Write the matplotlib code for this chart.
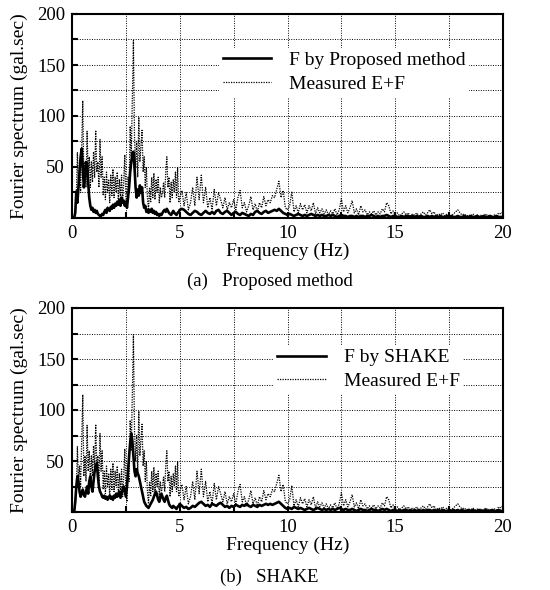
import numpy as np
import matplotlib
matplotlib.use("Agg")
import matplotlib.pyplot as plt

# Frequency grid (Hz): 0.05 Hz spacing up to 5 Hz, 0.1 Hz spacing from 5 to 20 Hz
freq_low = np.round(np.arange(100) * 0.05, 2)
freq_high = np.round(5.0 + np.arange(151) * 0.1, 1)

# Measured E+F (gal.sec), 0-4.95 Hz
measured_low = [
    0, 0, 0, 5, 20, 64, 30, 45, 25, 70,
    115, 35, 55, 30, 85, 40, 60, 30, 55, 35,
    65, 40, 86, 45, 55, 30, 77, 40, 60, 22,
    40, 18, 45, 25, 38, 15, 42, 22, 48, 20,
    40, 25, 45, 18, 38, 20, 42, 15, 35, 62,
    20, 10, 40, 30, 90, 60, 120, 174, 80, 50,
    75, 40, 99, 55, 70, 86, 45, 60, 30, 50,
    20, 8, 30, 15, 40, 20, 44, 18, 38, 25,
    40, 15, 30, 20, 25, 35, 20, 45, 60, 30,
    40, 15, 35, 20, 38, 25, 45, 20, 50, 15,
]
# Measured E+F, 5.0-20.0 Hz
measured_high = [
    20, 27, 12, 25, 8, 15, 30, 12, 40, 18,
    42, 15, 30, 10, 20, 8, 28, 12, 25, 18,
    10, 20, 8, 15, 10, 18, 8, 20, 27, 10,
    15, 6, 12, 21, 8, 14, 6, 15, 10, 21,
    12, 18, 15, 22, 20, 28, 36, 20, 27, 10,
    8, 12, 26, 6, 12, 5, 14, 8, 13, 5,
    12, 7, 15, 4, 10, 5, 9, 4, 8, 3,
    7, 4, 9, 3, 8, 19, 6, 12, 5, 10,
    17, 5, 9, 3, 12, 6, 8, 3, 6, 4,
    7, 3, 6, 4, 9, 6, 15, 12, 4, 7,
    3, 5, 2, 4, 6, 3, 5, 2, 4, 3,
    5, 2, 4, 6, 3, 5, 8, 4, 6, 2,
    4, 3, 5, 2, 4, 3, 2, 4, 6, 8,
    5, 3, 4, 2, 3, 2, 4, 2, 3, 1,
    3, 2, 4, 2, 3, 1, 3, 2, 5, 4,
    6,
]

# F by Proposed method, 0-4.95 Hz
proposed_low = [
    0, 0, 0, 5, 26, 15, 30, 45, 60, 68,
    50, 30, 40, 55, 54, 35, 20, 12, 8, 10,
    6, 8, 5, 7, 4, 3, 2, 2, 4, 3,
    6, 8, 5, 10, 8, 7, 11, 9, 13, 10,
    14, 12, 16, 13, 18, 12, 20, 15, 17, 12,
    16, 10, 20, 30, 45, 55, 62, 65, 50, 30,
    20, 28, 22, 32, 25, 30, 15, 10, 12, 6,
    8, 5, 8, 6, 9, 5, 7, 4, 6, 3,
    4, 2, 4, 3, 5, 7, 8, 6, 9, 7,
    5, 4, 3, 5, 7, 5, 4, 3, 5, 6,
]
# F by Proposed method, 5.0-20.0 Hz
proposed_high = [
    8, 9, 8, 6, 4, 3, 5, 7, 6, 4,
    3, 5, 7, 5, 4, 6, 4, 7, 8, 5,
    4, 6, 7, 5, 3, 5, 6, 4, 3, 5,
    4, 3, 2, 4, 3, 6, 7, 5, 4, 6,
    7, 5, 6, 7, 8, 7, 9, 7, 5, 4,
    3, 4, 3, 2, 3, 4, 3, 2, 3, 2,
    3, 4, 3, 2, 3, 2, 3, 2, 2, 3,
    2, 3, 2, 1, 2, 3, 2, 2, 1, 2,
    2, 1, 2, 1, 2, 2, 1, 2, 2, 3,
    2, 1, 2, 1, 2, 2, 3, 2, 1, 2,
    2, 1, 1, 2, 1, 2, 2, 1, 2, 1,
    2, 1, 2, 1, 1, 2, 1, 2, 1, 2,
    1, 2, 1, 1, 2, 1, 2, 1, 1, 2,
    1, 1, 2, 1, 1, 2, 1, 1, 2, 1,
    1, 2, 1, 1, 2, 1, 1, 2, 1, 1,
    1,
]

# F by SHAKE, 0-4.95 Hz
shake_low = [
    0, 0, 0, 10, 25, 35, 30, 20, 15, 18,
    22, 17, 15, 20, 25, 18, 30, 35, 25, 20,
    30, 40, 44, 48, 35, 25, 20, 18, 15, 14,
    16, 13, 15, 12, 14, 16, 13, 15, 12, 16,
    14, 18, 15, 17, 20, 14, 18, 22, 25, 20,
    15, 25, 40, 55, 68, 77, 70, 55, 40, 35,
    42, 38, 35, 30, 25, 20, 15, 10, 8, 6,
    5, 4, 6, 8, 10, 12, 15, 18, 20, 16,
    12, 10, 14, 18, 15, 12, 10, 14, 16, 12,
    8, 6, 5, 4, 6, 5, 4, 3, 5, 6,
]
# F by SHAKE, 5.0-20.0 Hz
shake_high = [
    8, 6, 4, 5, 3, 4, 6, 5, 7, 9,
    10, 8, 6, 7, 5, 8, 7, 6, 8, 9,
    7, 5, 6, 4, 6, 5, 7, 6, 5, 7,
    6, 8, 6, 5, 7, 6, 5, 7, 6, 7,
    8, 7, 8, 7, 8, 9, 10, 8, 6, 4,
    3, 4, 3, 5, 4, 3, 4, 3, 2, 3,
    4, 3, 2, 3, 4, 3, 2, 3, 2, 3,
    2, 3, 2, 3, 4, 3, 2, 3, 2, 2,
    3, 2, 1, 2, 3, 2, 2, 1, 2, 3,
    2, 2, 1, 2, 3, 2, 3, 2, 1, 2,
    2, 1, 2, 1, 2, 2, 1, 2, 1, 2,
    1, 2, 1, 2, 1, 2, 2, 1, 2, 1,
    2, 1, 2, 1, 1, 2, 1, 2, 1, 2,
    1, 2, 1, 1, 2, 1, 2, 1, 1, 2,
    1, 1, 2, 1, 1, 2, 1, 1, 2, 1,
    1,
]

x_ticks = [0, 5, 10, 15, 20]
y_ticks = [50, 100, 150, 200]
panel_titles = ["(a)   Proposed method", "(b)   SHAKE"]
legend_labels = [["F by Proposed method", "Measured E+F"],
                 ["F by SHAKE", "Measured E+F"]]

freq = np.concatenate([freq_low, freq_high])
measured = np.array(measured_low + measured_high, dtype=float)
proposed = np.array(proposed_low + proposed_high, dtype=float)
shake = np.array(shake_low + shake_high, dtype=float)

plt.rcParams['font.family'] = ['Liberation Serif', 'DejaVu Serif']
plt.rcParams['font.size'] = 13

fig = plt.figure(figsize=(5.5, 5.9), dpi=100)
W, H = 550.0, 590.0
ax_a = fig.add_axes([72 / W, 1 - 218 / H, 431 / W, 204 / H])
ax_b = fig.add_axes([72 / W, 1 - 512 / H, 431 / W, 204 / H])

legend_pos = [(0.318, 0.882), (0.445, 0.867)]
for ax, model, labels, title, lpos, ty in zip(
        [ax_a, ax_b], [proposed, shake], legend_labels, panel_titles,
        legend_pos, [281, 577]):
    ax.plot(freq, measured, color='black', lw=0.9, ls=(0, (1, 1.0)),
            label=labels[1], zorder=3)
    ax.plot(freq, model, color='black', lw=1.9, label=labels[0], zorder=4)
    ax.set_xlim(0, 20)
    ax.set_ylim(0, 200)
    ax.set_xticks(x_ticks)
    ax.set_xticks(np.arange(0, 20.1, 2.5), minor=True)
    ax.set_yticks(y_ticks)
    ax.set_yticks(np.arange(0, 201, 25), minor=True)
    ax.grid(True, which='both', color='black', ls=(0, (1, 1.5)), lw=0.7)
    ax.tick_params(which='both', direction='in', length=4, width=1.5,
                   labelsize=13.5, pad=5)
    for s in ax.spines.values():
        s.set_linewidth(1.5)
    ax.set_xlabel("Frequency (Hz)", fontsize=14)
    ax.set_ylabel("Fourier spectrum (gal.sec)", fontsize=14)
    ax.xaxis.set_label_coords(0.5, -0.123)
    ax.yaxis.set_label_coords(-0.102, 0.5)
    h, l = ax.get_legend_handles_labels()
    leg = ax.legend(h[::-1], l[::-1], loc='upper left', bbox_to_anchor=lpos,
                    frameon=True, fancybox=False, edgecolor='none',
                    facecolor='white', framealpha=1, fontsize=14,
                    handlelength=2.5, handletextpad=0.9, labelspacing=0.3,
                    borderpad=0.2)
    leg.set_zorder(5)
    fig.text(0.49, 1 - ty / H, title, ha='center', va='center', fontsize=13.5)

fig.savefig("out.png", dpi=100)
